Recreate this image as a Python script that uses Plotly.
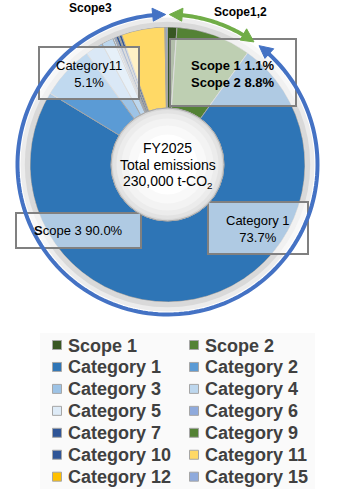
import numpy as np
import plotly.graph_objects as go

W, H = 354, 501

# ---------------- data ----------------
labels = ["Scope 1", "Scope 2", "Category 1", "Category 2", "Category 3", "Category 4",
          "Category 5", "Category 6", "Category 7", "Category 9", "Category 10",
          "Category 11", "Category 12", "Category 15"]
values = [1.1, 8.8, 73.7, 6.3, 2.1, 1.4, 0.2, 0.2, 0.3, 0.1, 0.3, 5.1, 0.1, 0.2]
colors = ["#385723", "#548235", "#2e75b6", "#5b9bd5", "#9dc3e6", "#bdd7ee",
          "#deebf7", "#8faadc", "#2f5597", "#548235", "#2f5597",
          "#ffd966", "#ffc000", "#8faadc"]

center_lines = ["FY2025", "Total emissions", "230,000 t-CO<sub>2</sub>"]
label_scope12 = "<b>Scope 1 1.1%<br>Scope 2 8.8%</b>"
label_cat11 = "Category11<br>5.1%"
label_cat1 = "Category 1<br>73.7%"
label_scope3 = "<b>S</b>cope 3 90.0%"
arc_scope3 = "Scope3"
arc_scope12 = "Scope1,2"

FONT = "Liberation Sans, Arial, sans-serif"

# geometry (pixels)
CX, CY, R = 167.5, 164.5, 137.5
HOLE_R = 56.5


def px(x):
    return x / W


def py(y):
    return 1 - y / H


def pt(r, th):
    t = np.radians(th)
    return CX + r * np.sin(t), CY - r * np.cos(t)


def arc_path(r, t0, t1, n=160):
    ths = np.linspace(t0, t1, n)
    parts = []
    for i, th in enumerate(ths):
        x, y = pt(r, th)
        parts.append(("M" if i == 0 else "L") + f"{px(x):.5f},{py(y):.5f}")
    return " ".join(parts)


def arrow_head(r, th, s, L=13, w=6.5):
    tx, ty = pt(r, th)
    t = np.radians(th)
    ux, uy = s * np.cos(t), s * np.sin(t)
    bth = th - s * np.degrees(L / r)
    bt = np.radians(bth)
    bx, by = tx - L * ux, ty - L * uy
    nx, ny = np.sin(bt), -np.cos(bt)
    p1 = (bx + w * nx, by + w * ny)
    p2 = (bx - w * nx, by - w * ny)
    return (f"M{px(tx):.5f},{py(ty):.5f} L{px(p1[0]):.5f},{py(p1[1]):.5f} "
            f"L{px(p2[0]):.5f},{py(p2[1]):.5f} Z")


def circle(r, **kw):
    return dict(type="circle", xref="paper", yref="paper",
                x0=px(CX - r), x1=px(CX + r), y0=py(CY + r), y1=py(CY - r), **kw)


def rect(x0, y0, x1, y1, **kw):
    return dict(type="rect", xref="paper", yref="paper",
                x0=px(x0), x1=px(x1), y0=py(y1), y1=py(y0), **kw)


fig = go.Figure()
fig.add_trace(go.Pie(
    labels=labels, values=values, sort=False, direction="clockwise", rotation=0,
    hole=HOLE_R / R,
    marker=dict(colors=colors, line=dict(color="#a6a6a6", width=1)),
    textinfo="none", hoverinfo="label+percent", showlegend=False,
    domain=dict(x=[px(CX - R), px(CX + R)], y=[py(CY + R), py(CY - R)]),
))

shapes = []
# legend background
shapes.append(rect(40, 333, 315, 489, fillcolor="#fafafa", line=dict(width=0), layer="below"))
# grey ring around pie
shapes.append(circle(144.5, line=dict(color="#ececec", width=5)))
shapes.append(circle(140.2, line=dict(color="#d9d9d9", width=5)))

# label boxes
box_fill = "rgba(255,255,255,0.62)"
box_line = dict(color="#808080", width=2)
shapes.append(rect(39, 47, 139, 99, fillcolor=box_fill, line=box_line))
shapes.append(rect(170, 39, 296, 106, fillcolor=box_fill, line=box_line))
shapes.append(rect(208, 202, 308, 254, fillcolor=box_fill, line=box_line))
shapes.append(rect(16, 213, 141, 248, fillcolor=box_fill, line=box_line))

# inner circle with soft shading
for r, c in [(56.5, "#d8d8d8"), (54.5, "#e3e3e3"), (51, "#ececec"),
             (46, "#f3f3f3"), (39, "#f9f9f9"), (30, "#ffffff")]:
    shapes.append(circle(r, fillcolor=c, line=dict(width=0)))
shapes.append(circle(56.5, line=dict(color="#a8a8a8", width=1)))

# scope arcs with arrows
RA = 150.0
BLUE, GREEN = "#4472c4", "#70ad47"
b0, b1 = 37.6, 359.3
g0, g1 = 0.7, 35.2
L = 13
shapes.append(dict(type="path", xref="paper", yref="paper",
                   path=arc_path(RA, b0 + np.degrees(L * 0.6 / RA), b1 - np.degrees(L * 0.6 / RA)),
                   line=dict(color=BLUE, width=4)))
shapes.append(dict(type="path", xref="paper", yref="paper",
                   path=arrow_head(RA, b1, +1), fillcolor=BLUE, line=dict(color=BLUE, width=1)))
shapes.append(dict(type="path", xref="paper", yref="paper",
                   path=arrow_head(RA, b0, -1), fillcolor=BLUE, line=dict(color=BLUE, width=1)))
shapes.append(dict(type="path", xref="paper", yref="paper",
                   path=arc_path(RA, g0 + np.degrees(L * 0.6 / RA), g1 - np.degrees(L * 0.6 / RA), 40),
                   line=dict(color=GREEN, width=4)))
shapes.append(dict(type="path", xref="paper", yref="paper",
                   path=arrow_head(RA, g0, -1), fillcolor=GREEN, line=dict(color=GREEN, width=1)))
shapes.append(dict(type="path", xref="paper", yref="paper",
                   path=arrow_head(RA, g1, +1), fillcolor=GREEN, line=dict(color=GREEN, width=1)))

annotations = []


def txt(x, y, text, size, color="#000000", xanchor="center", bold=False):
    annotations.append(dict(x=px(x), y=py(y), xref="paper", yref="paper", text=text,
                            showarrow=False, xanchor=xanchor, yanchor="middle",
                            align="center",
                            font=dict(family=FONT, size=size, color=color,
                                      weight="bold" if bold else "normal")))


# center text
for i, line in enumerate(center_lines):
    txt(CX, 148 + i * 17, line, 14)

# box labels
txt(89, 74, label_cat11, 13)
txt(233, 74, label_scope12, 13)
txt(258, 229, label_cat1, 13)
txt(78, 231, label_scope3, 13)

# arc titles
txt(90, 8, arc_scope3, 12, bold=True)
txt(240, 12, arc_scope12, 12, bold=True)

# legend (2 columns, row-major)
mark_x = [57, 194]
text_x = [66, 203]
for i, (lab, col) in enumerate(zip(labels, colors)):
    row, c = divmod(i, 2)
    y = 345 + row * 21.95
    shapes.append(rect(mark_x[c] - 4.5, y - 4.5, mark_x[c] + 4.5, y + 4.5,
                       fillcolor=col, line=dict(color="#a6a6a6", width=1)))
    txt(text_x[c], y + 0.5, lab, 18, color="#404040", xanchor="left", bold=True)

fig.update_layout(
    width=W, height=H, margin=dict(l=0, r=0, t=0, b=0),
    paper_bgcolor="white", plot_bgcolor="white",
    shapes=shapes, annotations=annotations, showlegend=False,
    font=dict(family=FONT),
)

fig.write_html("out.html")
